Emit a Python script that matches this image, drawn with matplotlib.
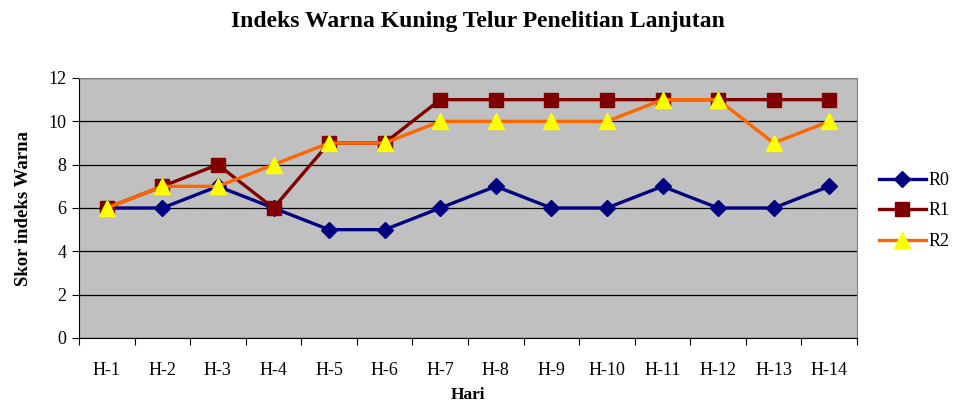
import matplotlib
matplotlib.use("Agg")
import matplotlib.pyplot as plt
import numpy as np

plt.rcParams['font.family'] = ['Liberation Serif', 'DejaVu Serif']

categories = ["H-1", "H-2", "H-3", "H-4", "H-5", "H-6", "H-7", "H-8", "H-9", "H-10", "H-11", "H-12", "H-13", "H-14"]
r0 = [6, 6, 7, 6, 5, 5, 6, 7, 6, 6, 7, 6, 6, 7]
r1 = [6, 7, 8, 6, 9, 9, 11, 11, 11, 11, 11, 11, 11, 11]
r2 = [6, 7, 7, 8, 9, 9, 10, 10, 10, 10, 11, 11, 9, 10]

fig = plt.figure(figsize=(9.55, 4.07), dpi=100)
ax = fig.add_axes([79/955, 1-338/407, (857-79)/955, (338-78)/407])
ax.set_facecolor('#C0C0C0')
x = np.arange(len(categories))

ax.plot(x, r0, color='#000080', lw=2.4, marker='D', ms=8, mfc='#000080', mec='#000080', label='R0', zorder=3)
ax.plot(x, r1, color='#800000', lw=2.4, marker='s', ms=9.5, mfc='#800000', mec='#800000', label='R1', zorder=4)
ax.plot(x, r2, color='#FF6600', lw=2.4, marker='^', ms=12, mfc='#FFFF00', mec='#FFFF00', label='R2', zorder=5)

ax.set_xlim(-0.5, len(categories) - 0.5)
ax.set_ylim(0, 12)
ax.set_yticks(np.arange(0, 13, 2))
ax.yaxis.grid(True, color='black', lw=0.9)
ax.set_axisbelow(True)
ax.set_xticks(np.arange(-0.5, len(categories), 1))
ax.set_xticklabels([])
ax.set_xticks(x, minor=True)
ax.set_xticklabels(categories, minor=True)
ax.tick_params(axis='x', which='major', length=5, direction='out', color='black')
ax.tick_params(axis='x', which='minor', length=0, pad=17, labelsize=13)
ax.tick_params(axis='y', length=5, direction='out', labelsize=13, pad=4)
for s in ['top', 'right']:
    ax.spines[s].set_color('#808080')
for s in ['left', 'bottom']:
    ax.spines[s].set_color('black')

ax.set_ylabel('Skor indeks Warna', fontsize=13.5, fontweight='bold', labelpad=12)
fig.text((79 + 857) / 2 / 955, 1 - 395/407, 'Hari', ha='center', va='center', fontsize=12.5, fontweight='bold')
fig.text(0.5, 1-21/407, 'Indeks Warna Kuning Telur Penelitian Lanjutan', ha='center', va='center', fontsize=17, fontweight='bold')

leg = fig.legend(loc='center left', bbox_to_anchor=(879/955, 1-211/407), frameon=False, fontsize=13,
                 handlelength=2.6, labelspacing=0.75, handletextpad=0.15, borderaxespad=0, borderpad=0)
fig.savefig('out.png', dpi=100)
